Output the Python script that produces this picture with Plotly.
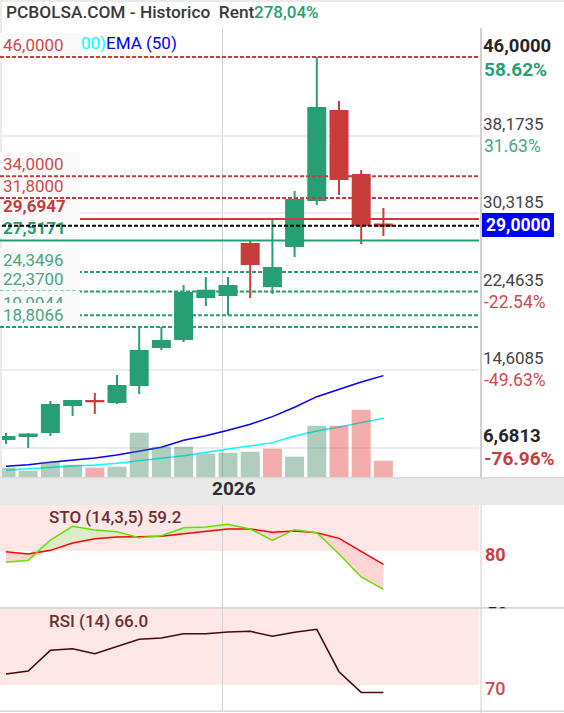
import numpy as np
import plotly.graph_objects as go
from plotly.subplots import make_subplots

W, H = 564, 713
GREEN = "#279f75"
RED = "#c93c3c"
FONT = "Roboto"

# monthly candles
idx = list(range(18))
opens = [7.53, 7.83, 8.24, 10.95, 11.36, 11.26, 12.97, 16.8, 17.6, 21.83, 22.03, 27.17, 22.94, 26.97, 31.6, 40.56, 34.12, 29.13]
closes = [7.73, 7.97, 10.95, 11.36, 11.33, 12.87, 16.39, 17.4, 22.23, 22.47, 22.94, 25.15, 24.75, 31.6, 40.86, 33.71, 29.08, 29.0]
highs = [8.14, 8.14, 11.36, 11.46, 12.16, 13.98, 18.81, 18.81, 23.04, 23.84, 23.84, 27.47, 29.59, 32.51, 46.0, 41.57, 34.62, 30.8]
lows = [7.03, 6.62, 7.83, 9.85, 10.05, 11.06, 12.06, 16.49, 17.3, 20.92, 20.02, 21.73, 22.13, 25.86, 31.1, 32.1, 27.17, 27.97]

volume = [9.3, 6.3, 15.3, 12.3, 9.3, 10.3, 44.3, 30.3, 30.3, 23.3, 24.3, 25.3, 28.3, 20.3, 51.3, 51.3, 67.3, 16.3]
vol_dir = ["u", "u", "u", "u", "d", "u", "u", "u", "u", "u", "u", "u", "d", "u", "u", "d", "d", "d"]

ema50 = [4.78, 4.94, 5.18, 5.39, 5.62, 5.92, 6.29, 6.70, 7.40, 7.86, 8.41, 9.01, 9.78, 10.72, 11.79, 12.54, 13.27, 13.91]
ema200 = [4.38, 4.54, 4.68, 4.81, 4.91, 5.08, 5.35, 5.59, 5.85, 6.19, 6.49, 6.86, 7.16, 7.83, 8.34, 8.74, 9.21, 9.62]

sto_k = [73.84, 74.93, 85.98, 93.41, 91.41, 90.51, 87.25, 88.33, 92.68, 93.04, 94.49, 91.96, 85.80, 91.59, 89.96, 78.37, 65.87, 59.17]
sto_d = [79.64, 78.37, 80.36, 84.35, 86.70, 87.61, 87.79, 87.97, 89.42, 90.51, 91.96, 91.96, 90.14, 90.87, 89.96, 86.88, 79.64, 72.75]
rsi = [75.98, 77.61, 88.84, 89.75, 87.03, 90.83, 94.82, 95.54, 97.90, 97.90, 98.80, 99.17, 96.45, 98.62, 100.25, 77.25, 66.01, 66.0]

red_levels = [46.0, 34.0, 31.8]
green_levels = [24.3496, 22.37, 19.9944, 18.8066]
resistance = 29.6947
support = 27.5171
last_price = 29.0
grid_levels = [38.04, 30.24, 22.33, 14.48, 6.63]
year_tick = 9.77


def fx(px):
    return px / W


def fy(px):
    return 1 - px / H


def dom(top, bottom):
    return [fy(bottom), fy(top)]


fig = make_subplots(rows=3, cols=1, specs=[[{"secondary_y": True}], [{}], [{}]])

fig.add_trace(go.Candlestick(
    x=idx, open=opens, high=highs, low=lows, close=closes,
    increasing=dict(line=dict(color=GREEN, width=2), fillcolor=GREEN),
    decreasing=dict(line=dict(color=RED, width=2), fillcolor=RED),
    hoverinfo="skip",
), row=1, col=1)
fig.add_trace(go.Scatter(x=idx, y=ema50, mode="lines", line=dict(color="#0000ff", width=1.5)), row=1, col=1)
fig.add_trace(go.Scatter(x=idx, y=ema200, mode="lines", line=dict(color="#00ffff", width=1.5)), row=1, col=1)

vol_colors = ["rgba(60,130,95,0.4)" if d == "u" else "rgba(225,50,50,0.4)" for d in vol_dir]
fig.add_trace(go.Bar(x=idx, y=volume, marker=dict(color=vol_colors, line=dict(width=0))), row=1, col=1, secondary_y=True)

# stochastic band: pale green where K is on top, pale red where D is
upper = np.maximum(sto_k, sto_d)
lower = np.minimum(sto_k, sto_d)
none = dict(width=0)
fig.add_trace(go.Scatter(x=idx, y=sto_d, mode="lines", line=none), row=2, col=1)
fig.add_trace(go.Scatter(x=idx, y=upper, mode="lines", line=none, fill="tonexty", fillcolor="#dcebc8"), row=2, col=1)
fig.add_trace(go.Scatter(x=idx, y=sto_d, mode="lines", line=none), row=2, col=1)
fig.add_trace(go.Scatter(x=idx, y=lower, mode="lines", line=none, fill="tonexty", fillcolor="#fed4d4"), row=2, col=1)
fig.add_trace(go.Scatter(x=idx, y=sto_d, mode="lines", line=dict(color="#ff0000", width=1.5)), row=2, col=1)
fig.add_trace(go.Scatter(x=idx, y=sto_k, mode="lines", line=dict(color="#66e000", width=1.5)), row=2, col=1)

fig.add_trace(go.Scatter(x=idx, y=rsi, mode="lines", line=dict(color="#4a0808", width=1.5)), row=3, col=1)

x_range = [(2 - 6) / 22.2, (479 - 6) / 22.2]
x_style = dict(
    range=x_range, domain=[fx(2), fx(479)], tickvals=[year_tick], showticklabels=False, ticks="",
    showgrid=True, gridcolor="#d2d2d2", gridwidth=1, zeroline=False, showline=False, rangeslider=dict(visible=False),
)
y_off = dict(showticklabels=False, ticks="", zeroline=False, showline=False, showgrid=False)

fig.update_layout(
    width=W, height=H, autosize=False,
    margin=dict(l=0, r=0, t=0, b=0),
    paper_bgcolor="white", plot_bgcolor="rgba(0,0,0,0)",
    showlegend=False, hovermode=False, bargap=0.144, boxgap=0.234, boxgroupgap=0,
    font=dict(family=FONT, size=17),
    xaxis=x_style, xaxis2=x_style, xaxis3=x_style,
    yaxis=dict(
        domain=dom(28, 477), range=[3.70, 48.92], tickvals=grid_levels, showticklabels=False, ticks="",
        showgrid=True, gridcolor="#ececec", gridwidth=2, zeroline=False, showline=False,
    ),
    yaxis2=dict(range=[0, 449], **y_off),
    yaxis3=dict(domain=dom(505, 607), range=[49.57, 105.0], **y_off),
    yaxis4=dict(domain=dom(609, 711), range=[55.9, 111.3], **y_off),
)


def level_line(level, color, x0=0, dash="4px,2px"):
    fig.add_shape(type="line", xref="paper", yref="y", x0=fx(x0), x1=fx(479), y0=level, y1=level,
                  line=dict(color=color, width=2, dash=dash))


def side_box(text, top, bottom, color, bold=False):
    fig.add_shape(type="rect", xref="paper", yref="paper", x0=0, x1=fx(80), y0=fy(bottom), y1=fy(top),
                  fillcolor="#fafafa", line=dict(width=0),
                  label=dict(text=text, textposition="middle left", padding=0,
                             font=dict(family=FONT, size=17, color=color, weight=700 if bold else 400)))


def frame(x0, y0, x1, y1, color):
    fig.add_shape(type="rect", xref="paper", yref="paper", x0=fx(x0), x1=fx(x1), y0=fy(y1), y1=fy(y0),
                  fillcolor=color, line=dict(width=0))


# pink overbought zones sit under the traces
for axis, floor, top in [("y3", 80, 105.0), ("y4", 70, 111.3)]:
    fig.add_shape(type="rect", xref="paper", yref=axis, x0=0, x1=fx(479), y0=floor, y1=top,
                  fillcolor="#fde7e7", line=dict(width=0), layer="below")

frame(0, 0, 564, 2, "#ebebeb")
frame(0, 0, 2, 477, "#ebebeb")

for lv in green_levels:
    level_line(lv, GREEN)
level_line(resistance, RED, x0=80, dash="solid")
level_line(support, GREEN, dash="solid")

side_box("46,0000", 33, 55, "#cf4b4b")
side_box("34,0000", 152, 174, "#cf4b4b")
side_box("31,8000", 174, 196, "#cf4b4b")
side_box("29,6947", 194, 216, RED, True)
side_box("27,5171", 216, 238, GREEN, True)
side_box("24,3496", 248, 270, "#4aa585")
side_box("22,3700", 267, 289, "#4aa585")
side_box("19,9944", 291, 312, "#4aa585")
side_box("18,8066", 303, 325, "#4aa585")

for lv in red_levels:
    level_line(lv, RED)
level_line(last_price, "#000000", x0=2)

# frame: date band, separators, right hand axis
frame(0, 477, 564, 505, "#e9e9e9")
frame(0, 477, 564, 478.5, "#dcdcdc")
frame(480, 28, 482, 477, "#d0d0d0")
frame(480.5, 505, 481.5, 713, "#d0d0d0")
frame(0, 607, 564, 609, "#d8d8d8")
# the 50 label of the stochastic axis is cut off by the panel below, only its top shows
fig.add_shape(type="rect", xref="paper", yref="paper", x0=fx(484), x1=fx(520), y0=fy(623), y1=fy(602),
              fillcolor="rgba(255,255,255,0)", line=dict(width=0),
              label=dict(text="50", textposition="middle left", padding=0,
                         font=dict(family=FONT, size=18, color="#222222", weight=700)))
frame(482, 608.5, 564, 640, "#ffffff")
frame(482, 608.5, 564, 609, "#d8d8d8")
frame(0, 710.5, 564, 712, "#d8d8d8")
frame(482, 213, 554, 237, "#0000ff")


def note(text, x, y, color, size=17, bold=False, anchor="left", weight=None):
    fig.add_annotation(text=text, xref="paper", yref="paper", x=fx(x), y=fy(y), xanchor=anchor, yanchor="middle",
                       showarrow=False, borderpad=0,
                       font=dict(family=FONT, size=size, color=color, weight=weight or (700 if bold else 400)))


note("PCBOLSA.COM - Historico\u00a0 Rent", 5, 12, "#3a3a3a", size=17.3, weight=500)
note("278,04%", 253, 12, GREEN, size=17, weight=500)
note("00)", 80, 43, "#00ffff")
note("EMA (50)", 105, 43, "#0000ff")

note("46,0000", 482, 46, "#262626", size=18.5, bold=True)
note("58.62%", 483, 69, GREEN, size=19, bold=True)
note("38,1735", 482, 124, "#444444")
note("31.63%", 483, 146, "#4aa585", size=17.5)
note("30,3185", 482, 202, "#444444")
note("29,0000", 485, 225, "#ffffff", size=17.5, bold=True)
note("22,4635", 482, 280, "#444444")
note("-22.54%", 483, 302, "#cf4b4b", size=17.5)
note("14,6085", 482, 358, "#444444")
note("-49.63%", 483, 380, "#cf4b4b", size=17.5)
note("6,6813", 482, 436, "#262626", size=18.5, bold=True)
note("-76.96%", 483, 459, RED, size=19, bold=True)

note("2026", 234, 488, "#2e2e2e", size=19, bold=True, anchor="center")
note("STO (14,3,5) 59.2", 48, 517, "#6a3030", size=17, weight=500)
note("RSI (14) 66.0", 48, 621, "#6a3030", size=17, weight=500)
note("80", 484, 554, RED, size=18, bold=True)
note("70", 484, 688, "#cf4b4b", size=18, weight=500)

fig.write_html("out.html", config=dict(displayModeBar=False), post_script="document.body.style.margin='0';")
